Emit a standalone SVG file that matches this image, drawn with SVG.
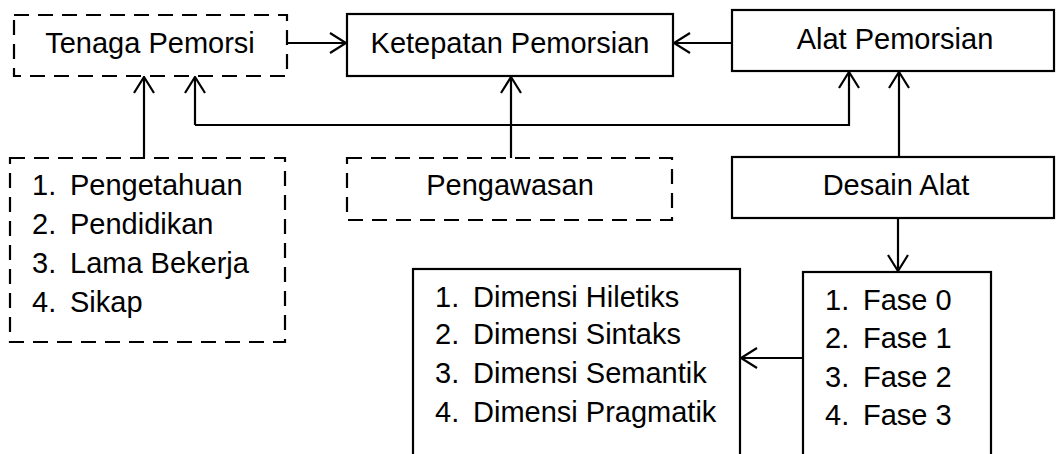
<svg xmlns="http://www.w3.org/2000/svg" width="1056" height="454" viewBox="0 0 1056 454">
<style>
.box{fill:#fff;stroke:#000;stroke-width:2.2}
.dash{stroke-dasharray:15 9}
text{font-family:"Liberation Sans",Arial,sans-serif;font-size:29px;fill:#000}
.c{text-anchor:middle}
.ln{fill:none;stroke:#000;stroke-width:2.2}
</style>
<defs>
<marker id="ah" viewBox="-18 -11 20 22" refX="0" refY="0" markerWidth="20" markerHeight="22" markerUnits="userSpaceOnUse" orient="auto">
<path d="M-16,-10 L0,0 L-16,10" fill="none" stroke="#000" stroke-width="2.2"/>
</marker>
</defs>
<rect width="1056" height="454" fill="#fff"/>
<g id="connectors">
<path class="ln" d="M287,43 H346" marker-end="url(#ah)"/>
<path class="ln" d="M732,43 H674" marker-end="url(#ah)"/>
<path class="ln" d="M144,158 V77" marker-end="url(#ah)"/>
<path class="ln" d="M195,125 V77" marker-end="url(#ah)"/>
<path class="ln" d="M195,125 H849 V72" marker-end="url(#ah)"/>
<path class="ln" d="M511,158 V77" marker-end="url(#ah)"/>
<path class="ln" d="M899,157 V72" marker-end="url(#ah)"/>
<path class="ln" d="M898,218 V271" marker-end="url(#ah)"/>
<path class="ln" d="M803,358 H741" marker-end="url(#ah)"/>
</g>
<g id="tenaga">
<rect class="box dash" x="14" y="15" width="273" height="61"/>
<text class="c" x="150" y="53">Tenaga Pemorsi</text>
</g>
<g id="ketepatan">
<rect class="box" x="347" y="14" width="326" height="62"/>
<text class="c" x="510" y="53">Ketepatan Pemorsian</text>
</g>
<g id="alat">
<rect class="box" x="732" y="10" width="322" height="61"/>
<text class="c" x="895" y="49">Alat Pemorsian</text>
</g>
<g id="faktor">
<rect class="box dash" x="10" y="158" width="275" height="184"/>
<text x="32" y="195">1.</text><text x="70" y="195">Pengetahuan</text>
<text x="32" y="234">2.</text><text x="70" y="234">Pendidikan</text>
<text x="32" y="273">3.</text><text x="70" y="273">Lama Bekerja</text>
<text x="32" y="312">4.</text><text x="70" y="312">Sikap</text>
</g>
<g id="pengawasan">
<rect class="box dash" x="347" y="158" width="325" height="62"/>
<text class="c" x="510" y="195">Pengawasan</text>
</g>
<g id="desain">
<rect class="box" x="732" y="157" width="322" height="61"/>
<text class="c" x="896" y="195">Desain Alat</text>
</g>
<g id="fase">
<rect class="box" x="803" y="272" width="188" height="190"/>
<text x="825" y="310">1.</text><text x="863" y="310">Fase 0</text>
<text x="825" y="348">2.</text><text x="863" y="348">Fase 1</text>
<text x="825" y="387">3.</text><text x="863" y="387">Fase 2</text>
<text x="825" y="425">4.</text><text x="863" y="425">Fase 3</text>
</g>
<g id="dimensi">
<rect class="box" x="413" y="269" width="327" height="193"/>
<text x="435" y="307">1.</text><text x="473" y="307">Dimensi Hiletiks</text>
<text x="435" y="344">2.</text><text x="473" y="344">Dimensi Sintaks</text>
<text x="435" y="383">3.</text><text x="473" y="383">Dimensi Semantik</text>
<text x="435" y="422">4.</text><text x="473" y="422">Dimensi Pragmatik</text>
</g>
</svg>
